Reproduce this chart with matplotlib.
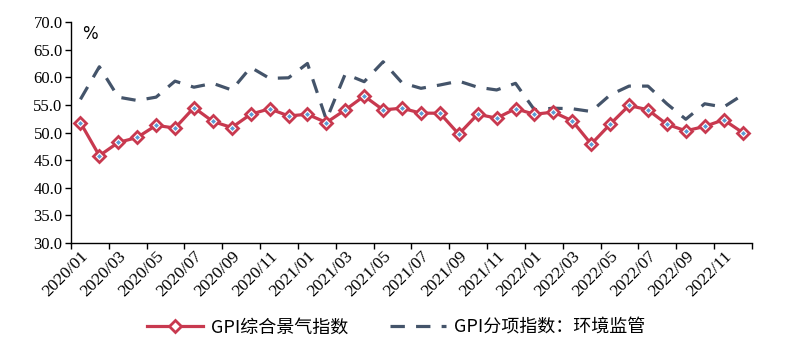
import matplotlib.pyplot as plt

plt.rcParams["font.family"] = "serif"
plt.rcParams["font.serif"] = ["Liberation Serif", "DejaVu Serif"]

months = [f"{y}/{m:02d}" for y in (2020, 2021, 2022) for m in range(1, 13)]

gpi_total = [51.8, 45.8, 48.2, 49.1, 51.3, 50.8, 54.5, 52.0, 50.9, 53.3, 54.3, 53.0,
             53.3, 51.8, 54.1, 56.6, 54.1, 54.4, 53.5, 53.5, 49.7, 53.3, 52.6, 54.3,
             53.3, 53.7, 52.1, 47.9, 51.5, 54.9, 54.1, 51.5, 50.3, 51.1, 52.3, 50.0]
gpi_env = [56.0, 61.9, 56.4, 55.8, 56.4, 59.3, 58.2, 58.9, 57.7, 61.8, 59.8, 59.9,
           62.5, 52.3, 60.6, 59.2, 62.8, 59.0, 58.0, 58.6, 59.3, 58.2, 57.7, 58.9,
           54.1, 54.4, 54.3, 53.8, 56.8, 58.4, 58.4, 55.2, 52.4, 55.2, 54.6, 56.8]

label_total = "GPI综合景气指数"
label_env = "GPI分项指数：环境监管"

red = "#C8394F"
navy = "#44546A"

fig = plt.figure(figsize=(7.92, 3.44), dpi=100)
ax = fig.add_axes([0.0896, 0.2936, 0.8599, 0.6424])

x = list(range(len(months)))
ax.plot(x, gpi_env, color=navy, lw=2.3, dashes=(4.5, 3.5), label=label_env, zorder=2)
ax.plot(x, gpi_total, color=red, lw=2.3, marker="D", ms=6.5, mfc="white",
        mec=red, mew=2, label=label_total, zorder=3)
ax.plot(x, gpi_total, ls="none", marker="D", ms=2.5, mfc="#5B9BD5", mec="none", zorder=4)

ax.set_xlim(-0.5, len(months) - 0.5)
ax.set_ylim(30, 70)
ax.set_yticks(range(30, 71, 5))
ax.set_yticklabels([f"{v:.1f}" for v in range(30, 71, 5)], fontsize=12)

# ticks between categories, labels at category centres
ax.set_xticks([i - 0.5 for i in range(0, len(months) + 1, 2)])
ax.set_xticklabels([])
ax.set_xticks(x[::2], minor=True)
ax.set_xticklabels(months[::2], minor=True, rotation=45, ha="right",
                   rotation_mode="anchor", fontsize=12.5)
ax.tick_params(axis="x", which="minor", length=0, pad=4)
ax.tick_params(axis="both", which="major", length=4, width=1, color="black")
ax.tick_params(axis="y", pad=2)

for side in ("top", "right"):
    ax.spines[side].set_visible(False)
for side in ("left", "bottom"):
    ax.spines[side].set_linewidth(1)
    ax.spines[side].set_color("black")

ax.text(0.016, 0.985, "%", transform=ax.transAxes, fontsize=12,
        fontfamily="DejaVu Sans", va="top", ha="left")

handles, labels = ax.get_legend_handles_labels()
fig.legend(handles[::-1], labels[::-1], loc="center", bbox_to_anchor=(0.5, 0.048),
           ncol=2, frameon=False, handlelength=3.1, handletextpad=0.45, columnspacing=2.3,
           prop={"family": ["Noto Sans CJK SC", "DejaVu Sans"], "size": 13})

fig.savefig("out.png", dpi=100)
